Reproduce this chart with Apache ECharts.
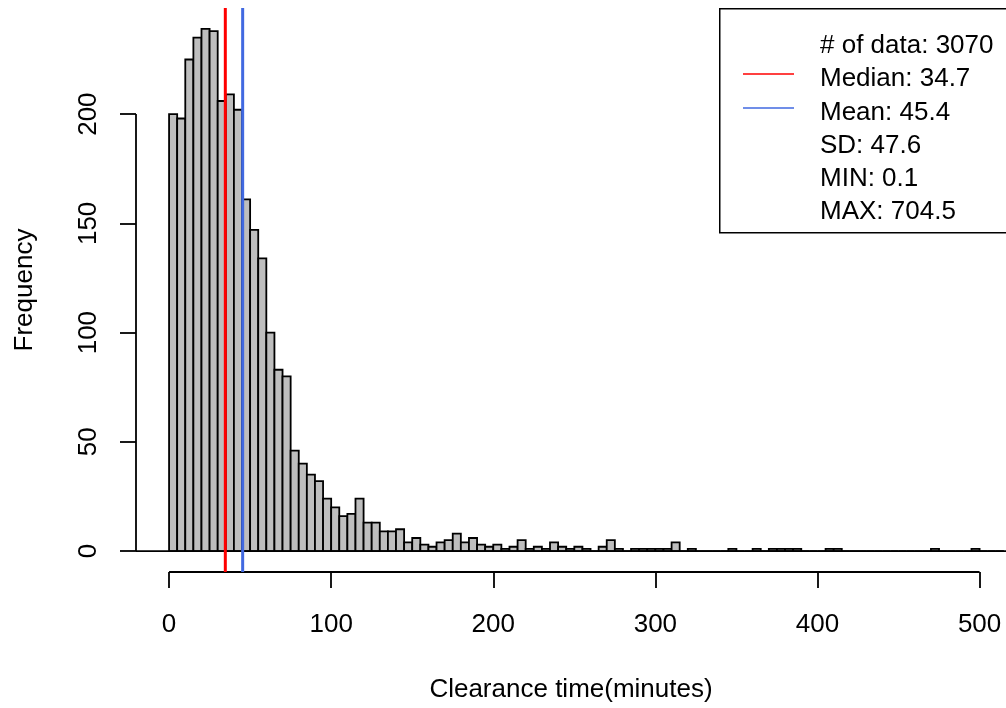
<!DOCTYPE html>
<html>
<head>
<meta charset="utf-8">
<script src="https://cdn.jsdelivr.net/npm/echarts@6/dist/echarts.min.js"></script>
<style>
  html, body { margin: 0; padding: 0; background: #fff; }
  #main { width: 1006px; height: 708px; }
</style>
</head>
<body>
<div id="main"></div>
<script>
// histogram counts, 5 minute bins starting at 0
var binWidth = 5;
var counts = [
  200, 198, 225, 235, 239, 238, 206, 209, 202, 161,
  147, 134, 100, 83, 80, 46, 40, 35, 32, 24,
  20, 16, 17, 24, 13, 13, 9, 9, 10, 4,
  6, 3, 2, 4, 5, 8, 4, 6, 3, 2,
  3, 1, 2, 5, 1, 2, 1, 4, 2, 1,
  2, 1, 0, 2, 5, 1, 0, 1, 1, 1,
  1, 1, 4, 0, 1, 0, 0, 0, 0, 1,
  0, 0, 1, 0, 1, 1, 1, 1, 0, 0,
  0, 1, 1, 0, 0, 0, 0, 0, 0, 0,
  0, 0, 0, 0, 1, 0, 0, 0, 0, 1,
  0, 0, 0
];
var xTicks = [0, 100, 200, 300, 400, 500];
var yTicks = [0, 50, 100, 150, 200];
var median = 34.7;
var mean = 45.4;
var legendLines = ['# of data: 3070', 'Median: 34.7', 'Mean: 45.4', 'SD: 47.6', 'MIN: 0.1', 'MAX: 704.5'];

// visible plot region limits (the right side is cut off by the image edge)
var xMin = -20.4, xMax = 516.3;
var yMin = -9.56, yMax = 248.56;

var font = "'Liberation Sans', Arial, sans-serif";

var bins = counts.map(function (c, i) {
  return [i * binWidth, (i + 1) * binWidth, c];
});

var chart = echarts.init(document.getElementById('main'), null, { renderer: 'canvas' });

var option = {
  animation: false,
  backgroundColor: '#fff',
  grid: { left: 136, right: 0, top: 8, bottom: 135 },
  xAxis: {
    type: 'value',
    min: xMin,
    max: xMax,
    name: 'Clearance time(minutes)',
    nameLocation: 'middle',
    nameGap: 105,
    nameTextStyle: { fontSize: 26, color: '#000', fontFamily: font },
    axisLine: { show: false, onZero: false },
    splitLine: { show: false },
    axisTick: {
      show: true, inside: false, length: 16, customValues: xTicks,
      lineStyle: { color: '#000', width: 1.8 }
    },
    axisLabel: {
      customValues: xTicks, margin: 40,
      fontSize: 26, color: '#000', fontFamily: font
    }
  },
  yAxis: {
    type: 'value',
    min: yMin,
    max: yMax,
    name: 'Frequency',
    nameLocation: 'middle',
    nameGap: 98,
    nameTextStyle: { fontSize: 26, color: '#000', fontFamily: font },
    axisLine: { show: false, onZero: false },
    splitLine: { show: false },
    axisTick: {
      show: true, inside: false, length: 16, customValues: yTicks,
      lineStyle: { color: '#000', width: 1.8 }
    },
    axisLabel: {
      customValues: yTicks, margin: 34, rotate: 90,
      fontSize: 26, color: '#000', fontFamily: font
    }
  },
  series: [
    {
      type: 'custom',
      data: bins,
      encode: { x: [0, 1], y: 2 },
      renderItem: function (params, api) {
        var p0 = api.coord([api.value(0), api.value(2)]);
        var p1 = api.coord([api.value(1), 0]);
        return {
          type: 'rect',
          shape: { x: p0[0], y: p0[1], width: p1[0] - p0[0], height: p1[1] - p0[1] },
          style: { fill: '#bebebe', stroke: '#000', lineWidth: 1.8 }
        };
      }
    },
    {
      // zero line
      type: 'line', data: [[xMin, 0], [xMax, 0]], symbol: 'none',
      lineStyle: { color: '#000', width: 1.8 }
    },
    {
      // x axis line
      type: 'line', data: [[xTicks[0], yMin], [xTicks[xTicks.length - 1], yMin]],
      symbol: 'none', clip: false, lineStyle: { color: '#000', width: 1.8 }
    },
    {
      // y axis line
      type: 'line', data: [[xMin, yTicks[0]], [xMin, yTicks[yTicks.length - 1]]],
      symbol: 'none', clip: false, lineStyle: { color: '#000', width: 1.8 }
    },
    {
      type: 'line', data: [[median, yMin], [median, yMax]], symbol: 'none',
      lineStyle: { color: '#ff0000', width: 3 }
    },
    {
      type: 'line', data: [[mean, yMin], [mean, yMax]], symbol: 'none',
      lineStyle: { color: '#4169e1', width: 3 }
    }
  ],
  graphic: [
    {
      type: 'rect', left: 719, top: 8, z: 100,
      shape: { x: 0, y: 0, width: 400, height: 224 },
      style: { fill: '#fff', stroke: '#000', lineWidth: 1.5 }
    },
    {
      type: 'line', z: 101,
      shape: { x1: 743, y1: 74, x2: 794, y2: 74 },
      style: { stroke: '#ff0000', lineWidth: 1.5 }
    },
    {
      type: 'line', z: 101,
      shape: { x1: 743, y1: 108, x2: 794, y2: 108 },
      style: { stroke: '#4169e1', lineWidth: 1.5 }
    }
  ].concat(legendLines.map(function (t, i) {
    return {
      type: 'text', z: 101, x: 820, y: 46 + i * 33.2,
      style: {
        text: t, fontSize: 26, fontFamily: font, fill: '#000',
        verticalAlign: 'middle', align: 'left'
      }
    };
  }))
};

chart.setOption(option);
</script>
</body>
</html>
